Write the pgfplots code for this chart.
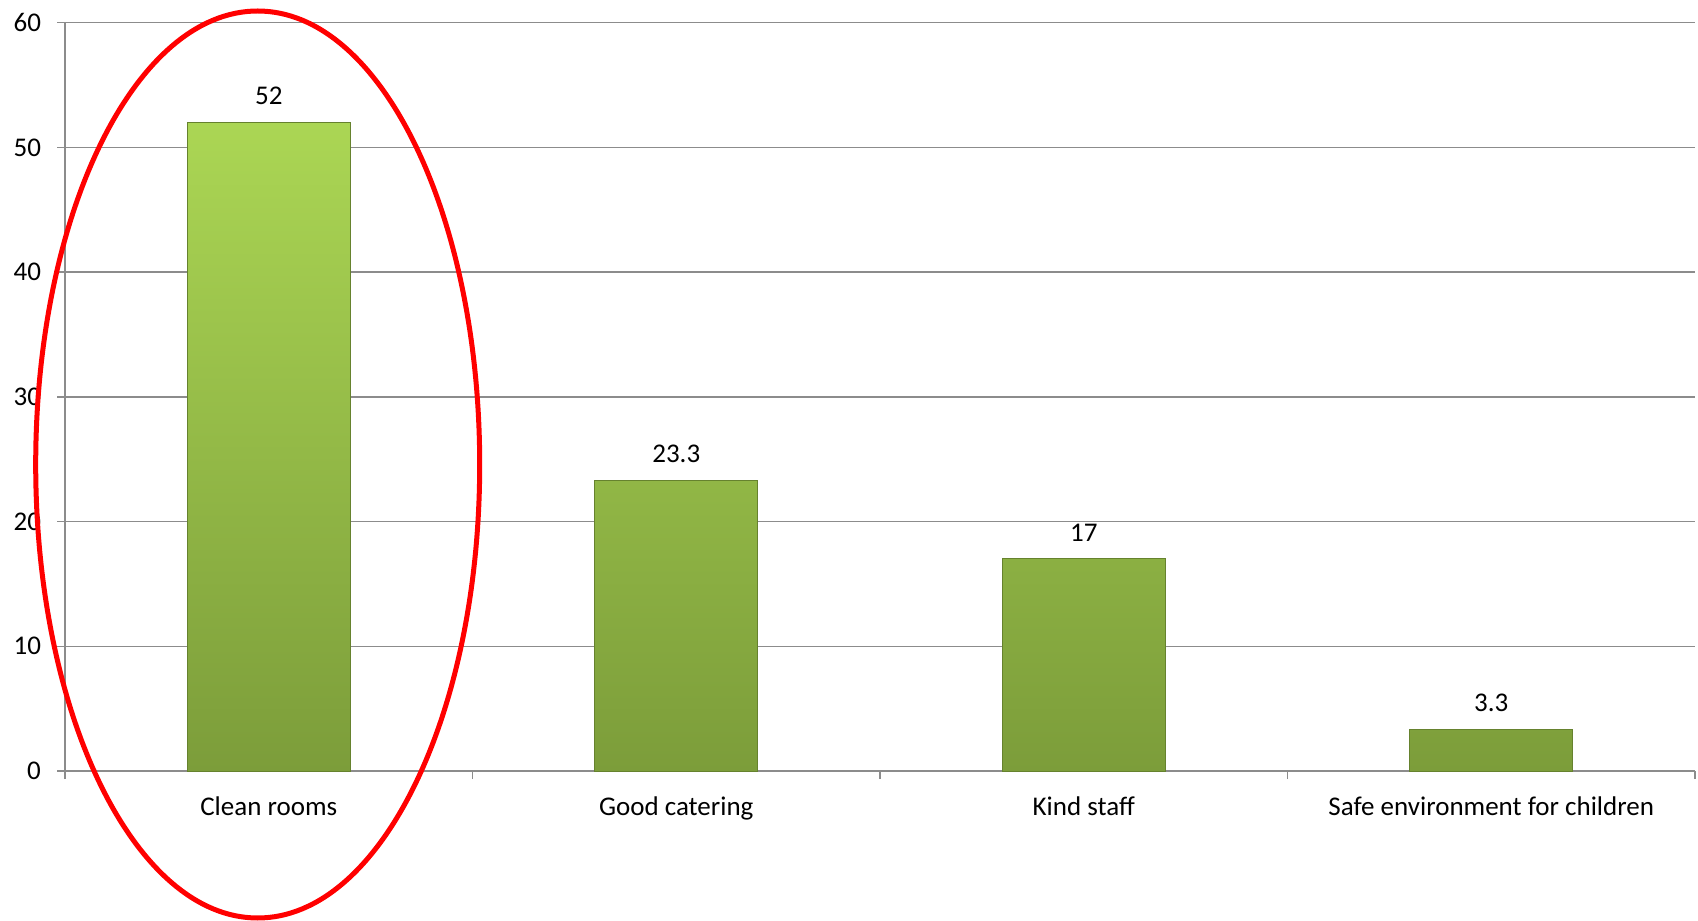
\documentclass[border=0pt]{standalone}
\usepackage{pgfplots}
\pgfplotsset{compat=1.18}
\usepackage{fontspec}
\setmainfont{Carlito}
\definecolor{gridgray}{HTML}{8C8C8C}
\definecolor{barTop}{HTML}{ABD654}
\definecolor{barBot}{HTML}{7C9D3A}
\definecolor{barEdge}{HTML}{66822E}
\begin{document}
\begin{tikzpicture}
\begin{axis}[
  scale only axis, width=815pt, height=374.2pt,
  xmin=-0.5, xmax=3.5, ymin=0, ymax=60,
  axis lines*=left,
  axis line style={draw=gridgray, line width=0.7pt},
  ytick={0,10,...,60},
  ymajorgrids, grid style={draw=gridgray, line width=0.7pt},
  tick align=outside, major tick length=4pt,
  tick style={draw=gridgray, line width=0.7pt},
  xtick={-0.5,0.5,1.5,2.5,3.5}, xticklabels={},
  extra x ticks={0,1,2,3},
  extra x tick labels={Clean rooms,Good catering,Kind staff,Safe environment for children},
  extra x tick style={major tick length=0pt, grid=none,
    xticklabel style={yshift=-9.5pt}},
  tick label style={font=\fontsize{13.5}{15}\selectfont, black},
  yticklabel style={xshift=-4.5pt},
  /pgf/number format/assume math mode=true,
  ybar, bar width=0.4,
  nodes near coords,
  every node near coord/.append style={font=\fontsize{13.5}{15}\selectfont, black, yshift=5.3pt},
  clip=false,
]
\addplot[draw=barEdge, line width=0.5pt, top color=barTop, bottom color=barBot]
  coordinates {(0,52) (1,23.3) (2,17) (3,3.3)};
\coordinate (O) at (rel axis cs:0,0);
\draw[red, line width=2.5pt] ([shift={(96.35pt,153.25pt)}]rel axis cs:0,0)
  ellipse [x radius=111pt, y radius=226.75pt];
\end{axis}
\pgfresetboundingbox
\path ([shift={(-32.5pt,-75pt)}]O) rectangle ([shift={(816.5pt,385.5pt)}]O);
\end{tikzpicture}
\end{document}
